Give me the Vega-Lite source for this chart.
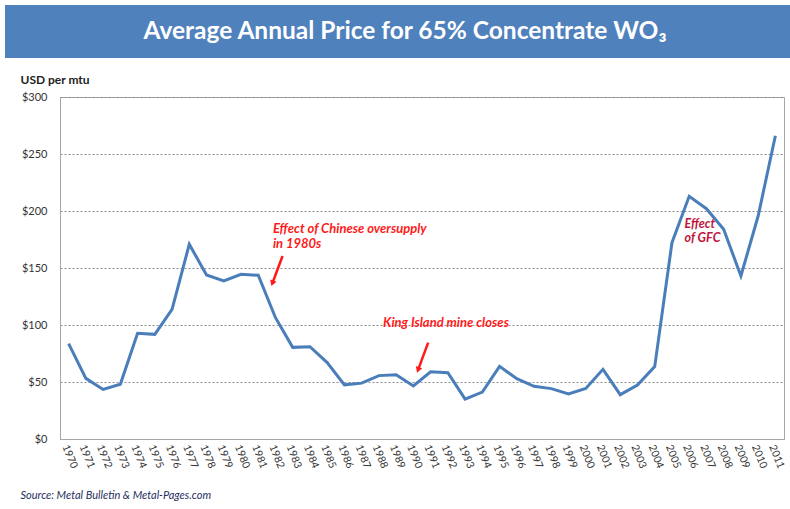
{
  "$schema": "https://vega.github.io/schema/vega-lite/v6.json",
  "padding": {"left": 5, "top": 5, "right": 0, "bottom": 0},
  "background": "white",
  "spacing": 14,
  "config": {"font": "Lato"},
  "vconcat": [
    {
      "width": 724,
      "height": 53,
      "view": {"stroke": null},
      "data": {"values": [{"from": 0, "to": 1, "title": "Average Annual Price for 65% Concentrate WO₃"}]},
      "layer": [
        {
          "mark": {"type": "rect", "color": "#4F81BD", "clip": false},
          "encoding": {
            "x": {"field": "from", "type": "quantitative", "scale": {"domain": [0.07006, 0.99236], "nice": false, "zero": false}, "axis": null},
            "x2": {"field": "to"}
          }
        },
        {
          "mark": {"type": "text", "color": "white", "font": "Lato", "fontSize": 24.5, "fontWeight": "bold", "dx": -17},
          "encoding": {"text": {"field": "title"}}
        }
      ]
    },
    {
      "width": 724,
      "height": 342,
      "view": {"stroke": "#A6A6A6", "strokeWidth": 1},
      "layer": [
        {
          "data": {"values": [
            {"year": 1970, "price": 83.6}, {"year": 1971, "price": 53.2}, {"year": 1972, "price": 43.5},
            {"year": 1973, "price": 48}, {"year": 1974, "price": 92.7}, {"year": 1975, "price": 91.8},
            {"year": 1976, "price": 113.7}, {"year": 1977, "price": 170.8}, {"year": 1978, "price": 143.9},
            {"year": 1979, "price": 138.6}, {"year": 1980, "price": 144.5}, {"year": 1981, "price": 143.6},
            {"year": 1982, "price": 106.4}, {"year": 1983, "price": 80.4}, {"year": 1984, "price": 81},
            {"year": 1985, "price": 67}, {"year": 1986, "price": 47.5}, {"year": 1987, "price": 49},
            {"year": 1988, "price": 55.6}, {"year": 1989, "price": 56.4}, {"year": 1990, "price": 46.5},
            {"year": 1991, "price": 59}, {"year": 1992, "price": 58.2}, {"year": 1993, "price": 35},
            {"year": 1994, "price": 41.2}, {"year": 1995, "price": 63.7}, {"year": 1996, "price": 52.9},
            {"year": 1997, "price": 46.2}, {"year": 1998, "price": 44.2}, {"year": 1999, "price": 39.5},
            {"year": 2000, "price": 44.4}, {"year": 2001, "price": 61.1}, {"year": 2002, "price": 38.9},
            {"year": 2003, "price": 47.4}, {"year": 2004, "price": 63.5}, {"year": 2005, "price": 172.2},
            {"year": 2006, "price": 212.9}, {"year": 2007, "price": 202}, {"year": 2008, "price": 184},
            {"year": 2009, "price": 143}, {"year": 2010, "price": 195.6}, {"year": 2011, "price": 266}
          ]},
          "mark": {"type": "line", "color": "#4A7EBB", "strokeWidth": 3},
          "encoding": {
            "x": {
              "field": "year", "type": "quantitative",
              "scale": {"domain": [1969.5, 2011.5], "nice": false, "zero": false},
              "axis": {
                "values": [1970,1971,1972,1973,1974,1975,1976,1977,1978,1979,1980,1981,1982,1983,1984,1985,1986,1987,1988,1989,1990,1991,1992,1993,1994,1995,1996,1997,1998,1999,2000,2001,2002,2003,2004,2005,2006,2007,2008,2009,2010,2011],
                "tickCount": 60,
                "format": "d", "labelAngle": 68, "labelFontSize": 10.5, "labelColor": "#333333",
                "labelPadding": 6, "labelOffset": -4, "ticks": false, "grid": false, "domainColor": "#A6A6A6",
                "labelOverlap": false, "labelFlush": false, "labelBound": false,
                "title": "Source: Metal Bulletin & Metal-Pages.com",
                "titleX": -40, "titleY": 56, "titleAlign": "left", "titleBaseline": "middle",
                "titleFontSize": 11, "titleFontWeight": "normal", "titleFontStyle": "italic", "titleColor": "#1F2F5F"
              }
            },
            "y": {
              "field": "price", "type": "quantitative",
              "scale": {"domain": [0, 300], "nice": false},
              "axis": {
                "values": [0, 50, 100, 150, 200, 250, 300], "format": "$.0f",
                "labelFontSize": 11, "labelColor": "#333333", "labelPadding": 13, "ticks": false,
                "domainColor": "#A6A6A6", "gridColor": "#8C8C8C", "gridDash": [2, 2],
                "title": "USD per mtu", "titleAngle": 0, "titleX": -40, "titleY": -18,
                "titleAlign": "left", "titleBaseline": "middle", "titleFontSize": 12,
                "titleFontWeight": "bold", "titleColor": "#222222"
              }
            }
          }
        },
        {
          "data": {"values": [
            {"x": 1981.85, "y": 184, "label": "Effect of Chinese oversupply"},
            {"x": 1981.85, "y": 171, "label": "in 1980s"},
            {"x": 1988.24, "y": 101.7, "label": "King Island mine closes"}
          ]},
          "mark": {"type": "text", "align": "left", "baseline": "middle", "color": "#FF1A1A", "fontSize": 13, "fontStyle": "italic", "fontWeight": "bold"},
          "encoding": {
            "x": {"field": "x", "type": "quantitative"},
            "y": {"field": "y", "type": "quantitative"},
            "text": {"field": "label"}
          }
        },
        {
          "data": {"values": [
            {"x": 2005.73, "y": 188.9, "label": "Effect"},
            {"x": 2005.73, "y": 176.6, "label": "of GFC"}
          ]},
          "mark": {"type": "text", "align": "left", "baseline": "middle", "color": "#C0143C", "fontSize": 12.5, "fontStyle": "italic", "fontWeight": "bold"},
          "encoding": {
            "x": {"field": "x", "type": "quantitative"},
            "y": {"field": "y", "type": "quantitative"},
            "text": {"field": "label"}
          }
        },
        {
          "data": {"values": [
            {"x": 1982.41, "y": 160.5, "x2": 1981.82, "y2": 136.6},
            {"x": 1990.86, "y": 84.5, "x2": 1990.27, "y2": 60.6}
          ]},
          "mark": {"type": "rule", "color": "#FF1A1A", "strokeWidth": 2.5},
          "encoding": {
            "x": {"field": "x", "type": "quantitative"},
            "y": {"field": "y", "type": "quantitative"},
            "x2": {"field": "x2"},
            "y2": {"field": "y2"}
          }
        },
        {
          "data": {"values": [
            {"x": 1981.82, "y": 136.6},
            {"x": 1990.27, "y": 60.6}
          ]},
          "mark": {"type": "point", "shape": "triangle-down", "angle": 20, "size": 45, "filled": true, "color": "#FF1A1A", "opacity": 1},
          "encoding": {
            "x": {"field": "x", "type": "quantitative"},
            "y": {"field": "y", "type": "quantitative"}
          }
        }
      ]
    }
  ]
}
